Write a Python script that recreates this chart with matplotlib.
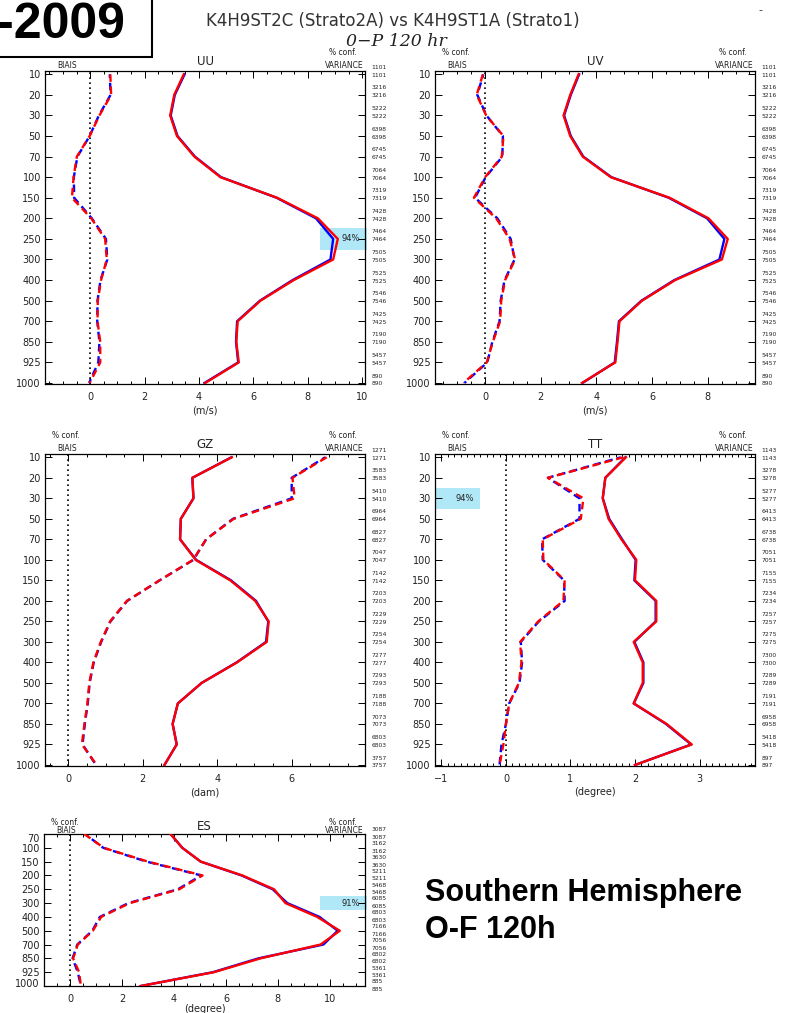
import matplotlib
matplotlib.use("Agg")
import matplotlib.pyplot as plt
from matplotlib.patches import Rectangle
from matplotlib.ticker import MultipleLocator
from matplotlib.transforms import ScaledTranslation
import numpy as np

W, H = 794, 1013
RED = "#ff0000"
BLUE = "#0000ff"
TXT = "#222222"
CONF_BG = "#b0e8f7"

# pressure levels (hPa)
levels = [10, 20, 30, 50, 70, 100, 150, 200, 250, 300, 400, 500, 700, 850, 925, 1000]
es_levels = [70, 100, 150, 200, 250, 300, 400, 500, 700, 850, 925, 1000]

# UU
uu_counts = [1101, 3216, 5222, 6398, 6745, 7064, 7319, 7428, 7464, 7505, 7525, 7546, 7425, 7190, 5457, 890]
uu_bias_blue = [0.72, 0.75, 0.32, -0.02, -0.47, -0.60, -0.59, 0.06, 0.58, 0.63, 0.38, 0.27, 0.26, 0.34, 0.30, -0.04]
uu_bias_red = [0.74, 0.77, 0.34, -0.02, -0.49, -0.61, -0.67, 0.04, 0.55, 0.61, 0.40, 0.28, 0.27, 0.37, 0.37, -0.02]
uu_std_blue = [3.47, 3.11, 2.96, 3.21, 3.85, 4.81, 6.85, 8.30, 8.93, 8.83, 7.44, 6.24, 5.40, 5.36, 5.44, 4.20]
uu_std_red = [3.44, 3.09, 2.94, 3.19, 3.83, 4.79, 6.87, 8.37, 9.10, 8.93, 7.48, 6.26, 5.42, 5.37, 5.46, 4.23]

# UV
uv_counts = [1101, 3216, 5222, 6398, 6745, 7064, 7319, 7428, 7464, 7505, 7525, 7546, 7425, 7190, 5457, 890]
uv_bias_blue = [-0.06, -0.28, 0.05, 0.64, 0.62, 0.02, -0.36, 0.44, 0.92, 1.06, 0.70, 0.56, 0.52, 0.26, 0.08, -0.74]
uv_bias_red = [-0.08, -0.30, 0.04, 0.66, 0.60, 0.00, -0.40, 0.40, 0.88, 1.08, 0.72, 0.58, 0.54, 0.28, 0.06, -0.78]
uv_std_blue = [3.38, 3.08, 2.84, 3.08, 3.53, 4.54, 6.60, 7.98, 8.60, 8.42, 6.80, 5.62, 4.81, 4.74, 4.66, 3.50]
uv_std_red = [3.36, 3.06, 2.82, 3.06, 3.51, 4.52, 6.63, 8.03, 8.72, 8.51, 6.83, 5.64, 4.83, 4.76, 4.68, 3.48]

# GZ
gz_counts = [1271, 3583, 5410, 6964, 6827, 7047, 7142, 7203, 7229, 7254, 7277, 7293, 7188, 7073, 6803, 3757]
gz_bias_blue = [6.90, 6.00, 6.00, 4.42, 3.70, 3.36, 2.45, 1.58, 1.13, 0.88, 0.68, 0.57, 0.52, 0.44, 0.38, 0.74]
gz_bias_red = [6.94, 6.02, 6.08, 4.44, 3.70, 3.35, 2.45, 1.57, 1.12, 0.87, 0.67, 0.56, 0.51, 0.43, 0.36, 0.76]
gz_std_blue = [4.38, 3.33, 3.36, 3.02, 3.00, 3.43, 4.37, 5.04, 5.37, 5.31, 4.52, 3.58, 2.94, 2.80, 2.91, 2.58]
gz_std_red = [4.39, 3.33, 3.36, 3.02, 3.00, 3.42, 4.35, 5.02, 5.38, 5.33, 4.53, 3.58, 2.94, 2.80, 2.91, 2.58]

# TT
tt_counts = [1143, 3278, 5277, 6413, 6738, 7051, 7155, 7234, 7257, 7275, 7300, 7289, 7191, 6958, 5418, 897]
tt_bias_blue = [1.78, 0.65, 1.14, 1.14, 0.56, 0.57, 0.90, 0.91, 0.51, 0.23, 0.25, 0.21, 0.05, 0.00, -0.07, -0.10]
tt_bias_red = [1.82, 0.65, 1.20, 1.16, 0.57, 0.58, 0.91, 0.89, 0.50, 0.22, 0.24, 0.20, 0.05, 0.00, -0.04, -0.10]
tt_std_blue = [1.85, 1.54, 1.50, 1.60, 1.80, 2.01, 1.99, 2.32, 2.32, 1.99, 2.13, 2.13, 1.98, 2.48, 2.87, 2.00]
tt_std_red = [1.86, 1.54, 1.50, 1.59, 1.79, 2.02, 2.00, 2.33, 2.33, 1.98, 2.12, 2.12, 1.98, 2.49, 2.88, 2.00]

# ES
es_counts = [3087, 3162, 3630, 5211, 5468, 6085, 6803, 7166, 7056, 6802, 5361, 885]
es_bias_blue = [0.58, 1.28, 2.95, 5.05, 4.15, 2.25, 1.15, 0.86, 0.28, 0.10, 0.30, 0.42]
es_bias_red = [0.55, 1.30, 3.00, 5.10, 4.20, 2.30, 1.20, 0.88, 0.30, 0.12, 0.35, 0.42]
es_std_blue = [3.87, 4.32, 5.03, 6.60, 7.80, 8.36, 9.60, 10.30, 9.75, 7.25, 5.50, 2.72]
es_std_red = [3.87, 4.32, 5.03, 6.63, 7.85, 8.29, 9.51, 10.38, 9.64, 7.33, 5.54, 2.72]


def fx(px):
    return px / W


def fy(py):
    return 1 - py / H


def draw_panel(ax, name, lev, counts, bias_b, bias_r, std_b, std_r,
               xlim, major, minor, xlabel, short=False):
    y = np.arange(len(lev))
    ax.axvline(0, color="k", ls=(0, (1, 2)), lw=1.2, zorder=1)
    ax.plot(bias_b, y, color=BLUE, lw=1.7, ls=(1.6, (3.2, 2.0)), zorder=2)
    ax.plot(bias_r, y, color=RED, lw=1.7, ls=(0, (3.2, 2.0)), zorder=3)
    ax.plot(std_b, y, color=BLUE, lw=1.7, zorder=2)
    ax.plot(std_r, y, color=RED, lw=1.7, zorder=3)

    ax.set_xlim(*xlim)
    if short:
        ax.set_ylim(len(lev) - 1, 0)
    else:
        ax.set_ylim(len(lev) - 0.95, -0.16)
    ax.set_yticks(y)
    ax.set_yticklabels([str(v) for v in lev])
    ax.xaxis.set_major_locator(MultipleLocator(major))
    ax.xaxis.set_minor_locator(MultipleLocator(minor))
    ax.tick_params(which="both", direction="in", top=True, right=True,
                   colors="black", labelcolor=TXT, labelsize=7, width=0.7)
    ax.tick_params(which="major", length=5, pad=3)
    ax.tick_params(which="minor", length=2.5)
    ax.tick_params(axis="x", pad=6)
    for s in ax.spines.values():
        s.set_linewidth(0.9)
    if short:
        # end labels nudged inside the short frame
        labels = ax.get_yticklabels()
        labels[0].set_transform(labels[0].get_transform()
                                + ScaledTranslation(0, -3 / 72, ax.figure.dpi_scale_trans))
        labels[-1].set_transform(labels[-1].get_transform()
                                 + ScaledTranslation(0, 2 / 72, ax.figure.dpi_scale_trans))
        ax.set_xlabel(xlabel, fontsize=7, color=TXT, labelpad=0)
    else:
        ax.set_xlabel(xlabel, fontsize=7, color=TXT, labelpad=2)

    # observation counts on the right
    up, dn = (3.0, -2.5) if short else (5.0, -0.7)
    for i, c in enumerate(counts):
        for off in (up, dn):
            ax.annotate(str(c), xy=(1, i), xycoords=("axes fraction", "data"),
                        xytext=(4.8, off), textcoords="offset points",
                        fontsize=4.3, color=TXT, ha="left", va="center",
                        annotation_clip=False)

    # header labels
    if short:
        conf_dy, lab_dy, name_dy = 8.0, 2.4, 5.3
    else:
        conf_dy, lab_dy, name_dy = 13.5, 3.8, 6.5
    kw = dict(xycoords="axes fraction", textcoords="offset points",
              color=TXT, va="center", annotation_clip=False)
    ax.annotate("BIAIS", xy=(0, 1), xytext=(15.6, lab_dy), fontsize=5.5, ha="center", **kw)
    ax.annotate("VARIANCE", xy=(1, 1), xytext=(-1, lab_dy), fontsize=5.5, ha="right", **kw)
    ax.annotate("% conf.", xy=(0, 1), xytext=(15.2, conf_dy), fontsize=5.5, ha="center", **kw)
    ax.annotate("% conf.", xy=(1, 1), xytext=(-16, conf_dy), fontsize=5.5, ha="center", **kw)
    ax.annotate(name, xy=(0.5, 1), xytext=(0, name_dy), fontsize=8.5, ha="center", **kw)


def conf_box(ax, lev, level, text, side):
    i = lev.index(level)
    trans = ax.get_yaxis_transform()
    if side == "right":
        x0, w, tx = 0.86, 0.145, 0.955
    else:
        x0, w, tx = 0.0, 0.14, 0.094
    ax.add_patch(Rectangle((x0, i - 0.52), w, 1.04, transform=trans,
                           facecolor=CONF_BG, edgecolor="none", zorder=0.5,
                           clip_on=False))
    ax.text(tx, i, text, transform=trans, fontsize=6, color=TXT,
            ha="center", va="center", zorder=4)


fig = plt.figure(figsize=(W / 100, H / 100), dpi=100)

ax_uu = fig.add_axes([fx(45), fy(384), 320 / W, 313 / H])
ax_uv = fig.add_axes([fx(435), fy(384), 320 / W, 313 / H])
ax_gz = fig.add_axes([fx(45), fy(766), 320 / W, 312 / H])
ax_tt = fig.add_axes([fx(435), fy(766), 320 / W, 312 / H])
ax_es = fig.add_axes([fx(44), fy(986), 321 / W, 152 / H])

draw_panel(ax_uu, "UU", levels, uu_counts, uu_bias_blue, uu_bias_red,
           uu_std_blue, uu_std_red, (-1.66, 10.1), 2, 0.5, "(m/s)")
draw_panel(ax_uv, "UV", levels, uv_counts, uv_bias_blue, uv_bias_red,
           uv_std_blue, uv_std_red, (-1.8, 9.7), 2, 0.5, "(m/s)")
draw_panel(ax_gz, "GZ", levels, gz_counts, gz_bias_blue, gz_bias_red,
           gz_std_blue, gz_std_red, (-0.63, 7.97), 2, 0.5, "(dam)")
draw_panel(ax_tt, "TT", levels, tt_counts, tt_bias_blue, tt_bias_red,
           tt_std_blue, tt_std_red, (-1.1, 3.86), 1, 0.1, "(degree)")
draw_panel(ax_es, "ES", es_levels, es_counts, es_bias_blue, es_bias_red,
           es_std_blue, es_std_red, (-1.0, 11.35), 2, 0.5, "(degree)", short=True)

conf_box(ax_uu, levels, 250, "94%", "right")
conf_box(ax_tt, levels, 30, "94%", "left")
conf_box(ax_es, es_levels, 300, "91%", "right")

# page header
fig.text(fx(393), fy(21), "K4H9ST2C (Strato2A) vs K4H9ST1A (Strato1)",
         fontsize=12, color="#333333", ha="center", va="center")
fig.text(fx(396), fy(41), "0\u2212P 120 hr", fontsize=12.5, color="#222222",
         family="DejaVu Serif", style="italic", ha="center", va="center")
fig.text(fx(760), fy(10), "-", fontsize=8, color="#333333", ha="center", va="center")

fig.patches.append(Rectangle((fx(-5), fy(57)), 157 / W, 62 / H,
                             transform=fig.transFigure, facecolor="white",
                             edgecolor="black", lw=1.5, zorder=10))
fig.text(fx(125), fy(38), "-2009", fontsize=36, fontweight="bold",
         family="Liberation Sans", ha="right", va="baseline", zorder=11)

fig.text(fx(425), fy(901), "Southern Hemisphere", fontsize=22, fontweight="bold",
         family="Liberation Sans", ha="left", va="baseline")
fig.text(fx(425), fy(938), "O-F 120h", fontsize=22, fontweight="bold",
         family="Liberation Sans", ha="left", va="baseline")

fig.savefig("out.png", dpi=100)
